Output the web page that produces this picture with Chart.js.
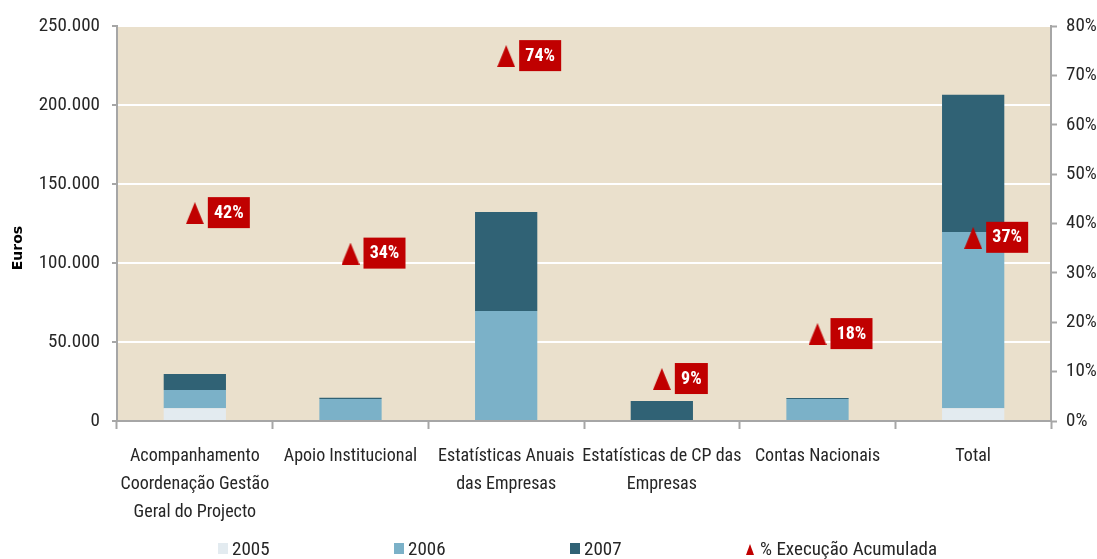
<!DOCTYPE html>
<html>
<head>
<meta charset="utf-8">
<script src="https://cdn.jsdelivr.net/npm/chart.js@4/dist/chart.umd.min.js"></script>
<style>
  html, body { margin: 0; padding: 0; background: #fff; }
  #wrap { position: relative; width: 1097px; height: 559px; overflow: hidden; }
  #c { position: absolute; left: 0; top: 0; }
  .lg { position: absolute; top: 538px; font: 19px "Roboto Condensed", "DejaVu Sans Condensed", sans-serif; color: #262626; white-space: nowrap; line-height: 22px; }
  .sq { position: absolute; width: 10px; height: 11px; top: 5px; left: 0; }
  .lg span.t { position: absolute; left: 14px; top: 0; }
  .tri { position: absolute; left: 0; top: 6px; width: 0; height: 0; border-left: 4.5px solid transparent; border-right: 4.5px solid transparent; border-bottom: 11px solid #C00000; }
</style>
</head>
<body>
<div id="wrap">
  <canvas id="c" width="1097" height="559"></canvas>
  <div id="legend"></div>
</div>
<script>
const categories = [
  ["Acompanhamento", "Coordenação Gestão", "Geral do Projecto"],
  ["Apoio Institucional"],
  ["Estatísticas Anuais", "das Empresas"],
  ["Estatísticas de CP das", "Empresas"],
  ["Contas Nacionais"],
  ["Total"]
];
const seriesNames = ["2005", "2006", "2007", "% Execução Acumulada"];
const v2005 = [8000, 0, 0, 0, 0, 8000];
const v2006 = [11600, 14000, 69600, 0, 13900, 111600];
const v2007 = [10100, 700, 62700, 12700, 600, 86900];
const execPct = [42.1, 33.9, 73.9, 8.5, 17.6, 37.1];
const leftTicks = [0, 50000, 100000, 150000, 200000, 250000];
const rightTicks = [0, 10, 20, 30, 40, 50, 60, 70, 80];
const yTitle = "Euros";

const colors = { c2005: "#E3EBF0", c2006: "#7BB1C8", c2007: "#306275", red: "#C00000", bg: "#EAE0CC", axis: "#A6A6A6", text: "#262626" };
const FONT = '"Roboto Condensed", "DejaVu Sans Condensed", sans-serif';

function fmtEuro(v) { return String(Math.round(v)).replace(/\B(?=(\d{3})+(?!\d))/g, "."); }

// triangle point image
const triImg = document.createElement("canvas");
triImg.width = 18; triImg.height = 22;
(function () {
  const g = triImg.getContext("2d");
  g.fillStyle = colors.red;
  g.beginPath(); g.moveTo(9, 0); g.lineTo(18, 22); g.lineTo(0, 22); g.closePath(); g.fill();
})();

const bgPlugin = {
  id: "bg",
  beforeDraw(chart) {
    const a = chart.chartArea, ctx = chart.ctx;
    ctx.save(); ctx.fillStyle = colors.bg;
    ctx.fillRect(a.left, a.top, a.right - a.left, a.bottom - a.top);
    ctx.restore();
  },
  afterDraw(chart) {
    const ctx = chart.ctx;
    ctx.save();
    ctx.translate(18, 248);
    ctx.rotate(-Math.PI / 2);
    ctx.fillStyle = "#000";
    ctx.font = 'bold 14px "DejaVu Sans", sans-serif';
    ctx.textAlign = "center"; ctx.textBaseline = "middle";
    ctx.fillText(yTitle, 0, 0);
    ctx.restore();
  }
};

const labelPlugin = {
  id: "pctLabels",
  afterDatasetsDraw(chart) {
    const ctx = chart.ctx;
    chart.data.datasets.forEach((ds, i) => {
      if (ds.type !== "line") return;
      const meta = chart.getDatasetMeta(i);
      meta.data.forEach((pt, j) => {
        const txt = Math.round(ds.data[j]) + "%";
        ctx.save();
        ctx.font = "bold 18px " + FONT;
        const w = Math.round(ctx.measureText(txt).width + 12);
        const x = pt.x + 13, y = pt.y;
        ctx.fillStyle = colors.red;
        ctx.fillRect(x, y - 16, w, 31);
        ctx.fillStyle = "#fff";
        ctx.textAlign = "center"; ctx.textBaseline = "middle";
        ctx.fillText(txt, x + w / 2, y);
        ctx.restore();
      });
    });
  }
};

new Chart(document.getElementById("c"), {
  data: {
    labels: categories,
    datasets: [
      { type: "line", label: seriesNames[3], data: execPct, yAxisID: "y1", showLine: false,
        pointStyle: triImg, pointRadius: 11, pointHoverRadius: 11, backgroundColor: colors.red, borderColor: colors.red, order: 0 },
      { type: "bar", label: seriesNames[0], data: v2005, backgroundColor: colors.c2005, yAxisID: "y", order: 1, stack: "s" },
      { type: "bar", label: seriesNames[1], data: v2006, backgroundColor: colors.c2006, yAxisID: "y", order: 1, stack: "s" },
      { type: "bar", label: seriesNames[2], data: v2007, backgroundColor: colors.c2007, yAxisID: "y", order: 1, stack: "s" }
    ]
  },
  options: {
    responsive: false,
    animation: false,
    devicePixelRatio: 1,
    layout: { padding: { top: 26, left: 0, right: 0, bottom: 0 } },
    datasets: { bar: { categoryPercentage: 1, barPercentage: 0.4, borderWidth: 0 } },
    plugins: { legend: { display: false }, tooltip: { enabled: false } },
    scales: {
      x: {
        stacked: true,
        offset: true,
        grid: { display: true, drawOnChartArea: false, offset: true, tickLength: 8, tickColor: colors.axis, tickWidth: 2 },
        border: { color: colors.axis, width: 2 },
        ticks: { color: colors.text, font: { family: FONT, size: 18, lineHeight: 1.55 }, padding: 14, maxRotation: 0, autoSkip: false },
        afterFit(s) { s.height = 559 - 421; }
      },
      y: {
        position: "left", stacked: true, min: 0, max: 250000,
        afterBuildTicks(s) { s.ticks = leftTicks.map(v => ({ value: v })); },
        grid: { color: "#FFFFFF", lineWidth: 2, tickLength: 5, tickColor: colors.axis, tickWidth: 2 },
        border: { color: colors.axis, width: 2 },
        ticks: { color: colors.text, font: { family: FONT, size: 19 }, padding: 12, callback: v => fmtEuro(v) },
        afterFit(s) { s.width = 117; }
      },
      y1: {
        position: "right", min: 0, max: 80,
        afterBuildTicks(s) { s.ticks = rightTicks.map(v => ({ value: v })); },
        grid: { drawOnChartArea: false, tickLength: 6, tickColor: colors.axis, tickWidth: 2 },
        border: { color: colors.axis, width: 2 },
        ticks: { color: colors.text, font: { family: FONT, size: 19 }, padding: 9, callback: v => v + "%" },
        afterFit(s) { s.width = 1097 - 1051; }
      }
    }
  },
  plugins: [bgPlugin, labelPlugin]
});

// HTML legend
const legendItems = [
  { name: seriesNames[0], color: colors.c2005, x: 218, kind: "sq" },
  { name: seriesNames[1], color: colors.c2006, x: 394, kind: "sq" },
  { name: seriesNames[2], color: colors.c2007, x: 570, kind: "sq" },
  { name: seriesNames[3], color: colors.red, x: 746, kind: "tri" }
];
const lg = document.getElementById("legend");
legendItems.forEach(it => {
  const d = document.createElement("div");
  d.className = "lg"; d.style.left = it.x + "px";
  const m = document.createElement("div");
  if (it.kind === "sq") { m.className = "sq"; m.style.background = it.color; }
  else { m.className = "tri"; }
  const t = document.createElement("span");
  t.className = "t"; t.textContent = it.name;
  d.appendChild(m); d.appendChild(t);
  lg.appendChild(d);
});
</script>
</body>
</html>
